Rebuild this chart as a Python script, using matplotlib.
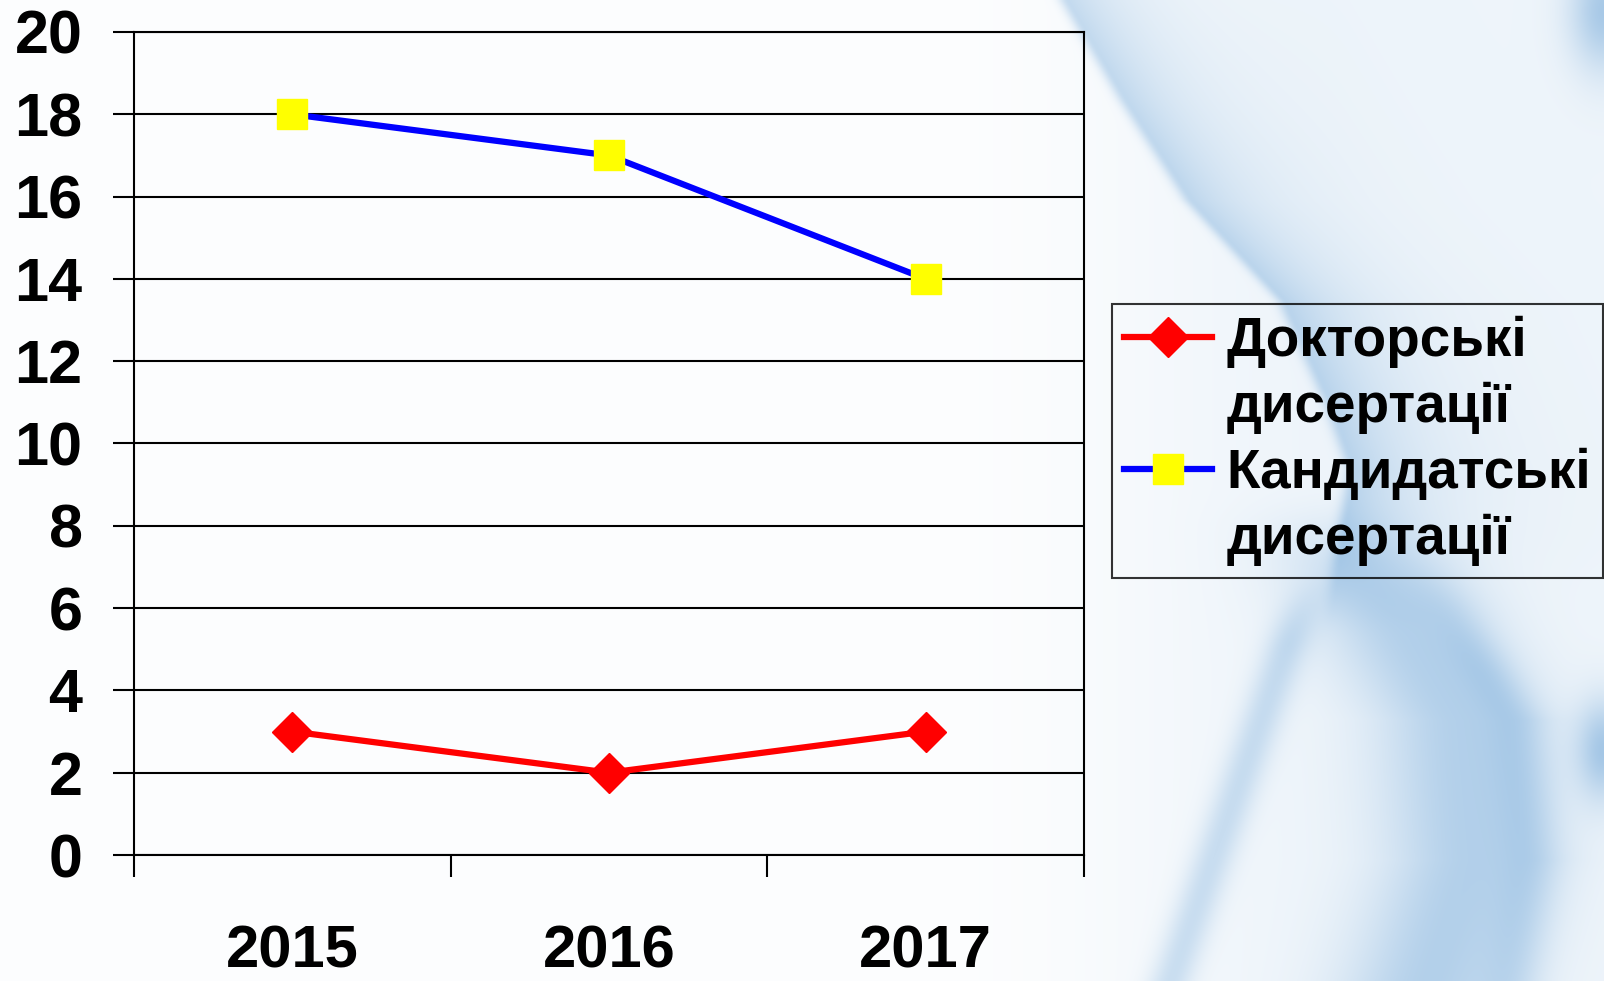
import numpy as np
import matplotlib
matplotlib.use("Agg")
from matplotlib import pyplot as plt
from matplotlib.lines import Line2D

years = ["2015", "2016", "2017"]
doctoral = [3, 2, 3]
candidate = [18, 17, 14]
doctoral_label = ["Докторські", "дисертації"]
candidate_label = ["Кандидатські", "дисертації"]
yticks = list(range(0, 21, 2))

W, H = 1604, 981
plt.rcParams['font.family'] = ['Liberation Sans', 'DejaVu Sans']
plt.rcParams['font.weight'] = 'bold'

fig = plt.figure(figsize=(W / 100, H / 100), dpi=100)

### decorative background: pale blue swirl on the right ###
yy, xx = np.mgrid[0:H:2, 0:W:2].astype(float)

def smoothstep(v, a, b):
    t = np.clip((v - a) / (b - a), 0, 1)
    return t * t * (3 - 2 * t)

inten = 0.02 + 0.10 * smoothstep(xx, 950, 1350)

# upper swirl: sharp left edge, soft fade to the right
edge = np.interp(yy, [0, 100, 200, 300, 400, 470, 560, 700],
                 [1068, 1127, 1192, 1285, 1330, 1355, 1340, 1320])
d = xx - edge
upper = np.where(d >= 0, np.exp(-d / 70.0), np.exp(-(d / 10.0) ** 2))
inten += 0.38 * upper * (1 - smoothstep(yy, 520, 640))

# lower broad band, darker to the right
cx = np.interp(yy, [520, 600, 720, 860, 981], [1340, 1390, 1460, 1470, 1430])
inten += 0.42 * np.exp(-((xx - cx) / 85.0) ** 2) * smoothstep(yy, 480, 620)
rx = np.interp(yy, [560, 720, 860, 981], [1420, 1515, 1530, 1510])
inten += 0.2 * np.exp(-((xx - rx) / 30.0) ** 2) * smoothstep(yy, 540, 680)

# thin stripe going down-left
sx = np.interp(yy, [590, 981], [1305, 1170])
inten += 0.3 * np.exp(-((xx - sx) / 22.0) ** 2) * smoothstep(yy, 570, 650)

# corners on the right edge
inten += 0.5 * np.exp(-(((xx - 1604) / 35) ** 2 + ((yy - 10) / 60) ** 2))
inten += 0.5 * np.exp(-(((xx - 1604) / 28) ** 2 + ((yy - 750) / 50) ** 2))

inten = np.clip(inten, 0, 0.85)[..., None]
blue = np.array([0.45, 0.66, 0.85])
img = (1 - inten) * np.ones(3) + inten * blue
bg = fig.add_axes([0, 0, 1, 1], zorder=-1)
bg.imshow(img, aspect="auto", interpolation="bilinear")
bg.axis("off")

### chart ###
ax = fig.add_axes([134 / W, 1 - 855 / H, 950 / W, 823 / H])
ax.patch.set_alpha(0)
x = np.arange(len(years))
l1, = ax.plot(x, doctoral, color="#ff0000", lw=4.5, marker="D", ms=20,
              mfc="#ff0000", mec="#ff0000", zorder=3)
l2, = ax.plot(x, candidate, color="#0000ff", lw=4.5, marker="s", ms=22,
              mfc="#ffff00", mec="#ffff00", zorder=3)

ax.set_xlim(-0.5, len(years) - 0.5)
ax.set_ylim(0, 20)
ax.set_yticks(yticks)
ax.set_yticklabels([str(v) for v in yticks], fontsize=44, fontweight="bold")
ax.yaxis.grid(True, color="black", lw=1.5)
ax.set_axisbelow(True)

ax.set_xticks(np.arange(-0.5, len(years), 1.0))
ax.set_xticklabels([])
ax.set_xticks(x, minor=True)
ax.set_xticklabels(years, minor=True, fontsize=43, fontweight="bold")
ax.tick_params(axis="x", which="major", direction="out", length=16, width=1.5)
ax.tick_params(axis="x", which="minor", length=0, pad=50)
ax.tick_params(axis="y", direction="out", length=15, width=1.5, pad=22)
for s in ax.spines.values():
    s.set_linewidth(1.5)

# second line of each label gets an empty handle so the marker sits on line one
blank = Line2D([], [], lw=0, alpha=0)
handles = [l1, blank, l2, blank]
labels = [doctoral_label[0], doctoral_label[1], candidate_label[0], candidate_label[1]]
leg = ax.legend(handles, labels, loc="upper left",
                bbox_to_anchor=(1112 / W, 1 - 304 / H),
                bbox_transform=fig.transFigure, borderaxespad=0,
                prop={"size": 39.5, "weight": "bold"}, frameon=True,
                fancybox=False, handlelength=1.6, handletextpad=0.27,
                labelspacing=0.25, borderpad=0.22)
leg.get_frame().set_edgecolor("black")
leg.get_frame().set_linewidth(1.5)
leg.get_frame().set_facecolor("none")

plt.savefig("out.png", dpi=100)
